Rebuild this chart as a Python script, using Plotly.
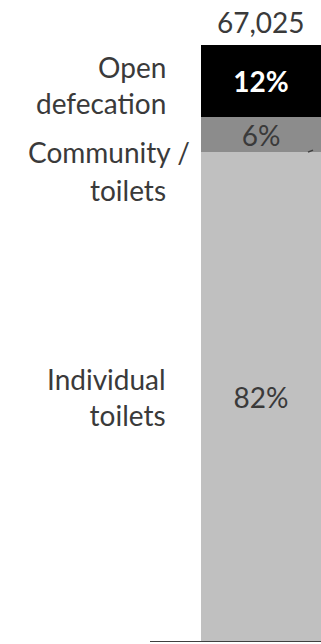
import plotly.graph_objects as go

segments = ["Individual toilets", "Community / toilets", "Open defecation"]
shares = [82, 6, 12]
colors = ["#c0c0c0", "#8c8c8c", "#000000"]
text_colors = ["#3a3a3a", "#3a3a3a", "#ffffff"]
total_label = "67,025"

FONT = "Lato"
FS = 28
fig = go.Figure()
for i, (name, val, col, tc) in enumerate(zip(segments, shares, colors, text_colors)):
    fig.add_trace(go.Bar(
        x=[0], y=[val], width=1, name=name,
        marker=dict(color=col, line=dict(width=0)),
        text=[f"<b>{val}%</b>" if i == 2 else f"{val}%"],
        textposition="inside", insidetextanchor="middle", constraintext="none",
        textfont=dict(color=tc, size=FS, family=FONT),
        hoverinfo="skip",
    ))

cum = []
s = 0
for v in shares:
    cum.append((s, s + v))
    s += v

def px2x(p):
    return (p - 201) / 120 - 0.5

annotations = []
def lab(x, y, text, yshift=0):
    annotations.append(dict(xref="x", yref="y", x=x, y=y, text=text, yshift=yshift,
                            xanchor="right", yanchor="middle", align="right",
                            showarrow=False,
                            font=dict(family=FONT, size=FS, color="#3a3a3a")))

lab_x = px2x(168)
lo, hi = cum[0]
lab(lab_x, (lo + hi) / 2, "Individual<br>toilets")
lo, hi = cum[2]
lab(lab_x, (lo + hi) / 2, "Open<br>defecation", yshift=-4)
lo, hi = cum[1]
lab(px2x(192), hi - 6.0, "Community /")
lab(lab_x, lo - 6.3, "toilets")

annotations.append(dict(xref="x", yref="y", x=0, y=s, yshift=4, yanchor="bottom",
                        text=total_label, showarrow=False,
                        font=dict(family=FONT, size=FS, color="#3a3a3a")))

lo, hi = cum[1]
shapes = [
    dict(type="line", xref="x", yref="y", x0=px2x(308), y0=lo + 0.05, x1=px2x(313), y1=lo + 0.4,
         line=dict(color="#404040", width=1.5)),
    dict(type="line", xref="x", yref="y", x0=px2x(150), y0=0, x1=0.5, y1=0,
         line=dict(color="#404040", width=2)),
]

fig.update_layout(
    barmode="stack", width=321, height=644,
    margin=dict(l=0, r=0, t=45, b=2),
    plot_bgcolor="white", paper_bgcolor="white",
    showlegend=False, annotations=annotations, shapes=shapes,
    xaxis=dict(range=[-2.175, 0.5], visible=False, fixedrange=True),
    yaxis=dict(range=[0, 100], visible=False, fixedrange=True),
)
fig.write_html("out.html")
